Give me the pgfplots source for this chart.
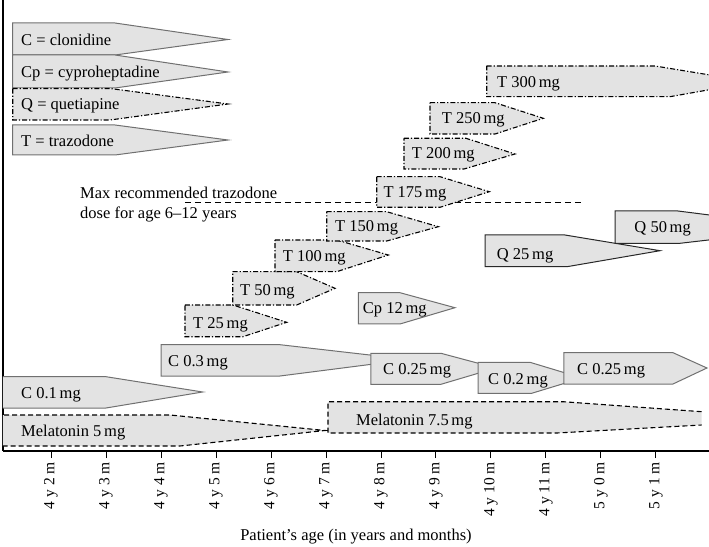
\documentclass[border=0pt]{standalone}
\usepackage{fontspec}
\setmainfont{Liberation Serif}
\usepackage{pgfplots}
\pgfplotsset{compat=1.18}
\definecolor{boxfill}{RGB}{227,227,227}
\definecolor{edgegray}{RGB}{112,112,112}
\definecolor{qedge}{RGB}{40,40,40}
\tikzset{
 solidbox/.style={fill=boxfill, draw=edgegray, line width=1pt, mark=none},
 qbox/.style={fill=boxfill, draw=qedge, line width=1pt, mark=none},
 tbox/.style={fill=boxfill, draw=black, line width=1.1pt, dash pattern=on 5pt off 2pt on 1.2pt off 2pt, mark=none},
 mbox/.style={fill=boxfill, draw=black, line width=1.1pt, dash pattern=on 5pt off 3pt, mark=none},
 lab/.style={anchor=base west, inner sep=0pt, font=\fontsize{16.5}{20}\selectfont},
}
\begin{document}
\begin{tikzpicture}
\begin{axis}[
 scale only axis, width=706pt, height=451pt,
 xmin=1.127, xmax=13.964, ymin=0, ymax=451,
 axis x line*=bottom, axis y line*=left,
 axis line style={-, line width=1.1pt, black},
 xtick={2,...,13},
 xticklabels={4 y 2 m, 4 y 3 m, 4 y 4 m, 4 y 5 m, 4 y 6 m, 4 y 7 m, 4 y 8 m, 4 y 9 m, 4 y 10 m, 4 y 11 m, 5 y 0 m, 5 y 1 m},
 ytick=\empty,
 tick align=outside, major tick length=7pt,
 tick style={black, line width=1pt},
 xticklabel style={rotate=90, anchor=east, inner sep=0pt, font=\fontsize{15.5}{17}\selectfont},
 xticklabel shift=4pt,
 xlabel={Patient's age (in years and months)},
 xlabel style={font=\fontsize{16.5}{20}\selectfont, at={(axis description cs:0.5,0)}, anchor=base, yshift=-89pt, inner sep=0pt},
 clip=true,
]
% legend boxes
\addplot[solidbox] coordinates {(1.304,428) (3.164,428) (5.218,411.5) (3.164,396) (1.304,396)} -- cycle;
\addplot[solidbox] coordinates {(1.304,396) (3.164,396) (5.218,379) (3.164,363) (1.304,363)} -- cycle;
\addplot[tbox] coordinates {(1.304,362.5) (3.073,362.5) (5.218,347) (3.073,331) (1.304,331)} -- cycle;
\addplot[solidbox] coordinates {(1.304,326) (3.164,326) (5.218,311) (3.164,296) (1.304,296)} -- cycle;
\node[lab] at (axis cs:1.455,405.5) {C = clonidine};
\node[lab] at (axis cs:1.455,373.5) {Cp = cyproheptadine};
\node[lab] at (axis cs:1.455,341.5) {Q = quetiapine};
\node[lab] at (axis cs:1.455,304.5) {T = trazodone};
% melatonin
\addplot[mbox] coordinates {(1.0,36) (4.164,36) (6.982,20.5) (4.345,5) (1.0,5)} -- cycle;
\addplot[fill=boxfill, draw=none, mark=none] coordinates {(7.036,49.3) (11.309,49.3) (13.831,39.3) (13.831,26) (11.2,18) (7.036,18)} -- cycle;
\addplot[mbox, fill=none] coordinates {(13.831,39.3) (11.309,49.3) (7.036,49.3) (7.036,18) (11.2,18) (13.831,26)};
\node[lab] at (axis cs:1.455,14.5) {Melatonin 5\,mg};
\node[lab] at (axis cs:7.545,25.5) {Melatonin 7.5\,mg};
% clonidine
\addplot[solidbox] coordinates {(1.0,74.3) (3.0,74.3) (4.758,59) (3.0,43) (1.0,43)} -- cycle;
\addplot[solidbox] coordinates {(4.0,106.3) (6.164,106.3) (8.509,91.5) (6.164,75) (4.0,75)} -- cycle;
\addplot[solidbox] coordinates {(7.818,97.7) (9.091,97.7) (10.09,83) (9.091,66.7) (7.818,66.7)} -- cycle;
\addplot[solidbox] coordinates {(9.764,88.7) (10.709,88.7) (11.655,73) (10.74,57.7) (9.764,57.7)} -- cycle;
\addplot[solidbox] coordinates {(11.327,98.3) (13.309,98.3) (13.927,83) (13.309,67) (11.327,67)} -- cycle;
\node[lab] at (axis cs:1.455,52.5) {C 0.1\,mg};
\node[lab] at (axis cs:4.127,84.5) {C 0.3\,mg};
\node[lab] at (axis cs:8.036,76.5) {C 0.25\,mg};
\node[lab] at (axis cs:9.945,66.5) {C 0.2\,mg};
\node[lab] at (axis cs:11.564,76.5) {C 0.25\,mg};
% max line
\addplot[black, line width=1.1pt, dash pattern=on 6pt off 4pt, mark=none] coordinates {(4.436,248.5) (11.709,248.5)};
\node[lab] at (axis cs:2.527,252.5) {Max recommended trazodone};
\node[lab] at (axis cs:2.527,232.8) {dose for age 6--12 years};
% trazodone
\addplot[tbox] coordinates {(4.436,146) (5.309,146) (6.285,128.7) (5.491,114.3) (4.436,114.3)} -- cycle;
\addplot[tbox] coordinates {(5.304,179.3) (6.467,179.3) (7.164,162.7) (6.467,146) (5.304,146)} -- cycle;
\addplot[tbox] coordinates {(6.073,211) (7.195,211) (8.133,196) (7.195,179.3) (6.073,179.3)} -- cycle;
\addplot[tbox] coordinates {(7.013,239.3) (8.104,239.3) (9.042,224.3) (8.104,210) (7.013,210)} -- cycle;
\addplot[tbox] coordinates {(7.922,274.3) (9.073,274.3) (9.969,259.3) (9.073,243.7) (7.922,243.7)} -- cycle;
\addplot[tbox] coordinates {(8.418,312.7) (9.545,312.7) (10.436,297) (9.509,282) (8.418,282)} -- cycle;
\addplot[tbox] coordinates {(8.891,348.3) (10.073,348.3) (10.951,332.7) (10.073,317) (8.891,317)} -- cycle;
\addplot[tbox] coordinates {(9.922,385) (12.982,385) (14.76,369) (13.255,354.3) (9.922,354.3)} -- cycle;
\node[lab] at (axis cs:4.582,122.5) {T 25\,mg};
\node[lab] at (axis cs:5.436,155.5) {T 50\,mg};
\node[lab] at (axis cs:6.213,189.5) {T 100\,mg};
\node[lab] at (axis cs:7.164,219.5) {T 150\,mg};
\node[lab] at (axis cs:8.042,253.5) {T 175\,mg};
\node[lab] at (axis cs:8.558,292) {T 200\,mg};
\node[lab] at (axis cs:9.104,327.5) {T 250\,mg};
\node[lab] at (axis cs:10.109,363.5) {T 300\,mg};
% cyproheptadine, quetiapine
\addplot[solidbox] coordinates {(7.587,158.3) (8.345,158.3) (9.345,143.3) (8.345,127) (7.587,127)} -- cycle;
\addplot[qbox] coordinates {(9.891,216) (11.345,216) (13.073,200.3) (11.382,184.3) (9.891,184.3)} -- cycle;
\addplot[qbox] coordinates {(12.255,240) (13.4,240) (15.84,223) (13.436,207.7) (12.255,207.7)} -- cycle;
\node[lab] at (axis cs:7.667,137.5) {Cp 12\,mg};
\node[lab] at (axis cs:10.104,191.5) {Q 25\,mg};
\node[lab] at (axis cs:12.605,218.5) {Q 50\,mg};
\end{axis}
\pgfresetboundingbox
\useasboundingbox ([xshift=-3pt,yshift=-95pt]current axis.south west) rectangle (current axis.north east);
\end{tikzpicture}
\end{document}
